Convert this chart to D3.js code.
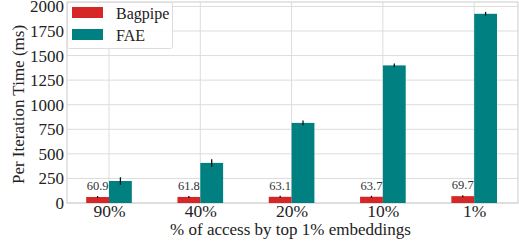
<!DOCTYPE html>
<html>
<head>
<meta charset="utf-8">
<script src="https://cdn.jsdelivr.net/npm/d3@7"></script>
<style>
  body { margin: 0; background: #fff; }
  svg text { font-family: 'Liberation Serif', 'Times New Roman', serif; }
</style>
</head>
<body>
<svg width="519" height="241"></svg>
<script>
const categories = ['90%', '40%', '20%', '10%', '1%'];
const bagpipe = [60.9, 61.8, 63.1, 63.7, 69.7];
const bagpipeErr = [10, 10, 10, 10, 10];
const fae = [224, 408, 815, 1400, 1925];
const faeErr = [38, 38, 25, 20, 20];
const yTicks = [0, 250, 500, 750, 1000, 1250, 1500, 1750, 2000];

const FONT = "'Liberation Serif', 'Times New Roman', serif";

const svg = d3.select('svg');
const margin = { left: 67, right: 1, top: 2, bottom: 38 };
const width = 519 - margin.left - margin.right;
const height = 241 - margin.top - margin.bottom;

const g = svg.append('g').attr('transform', `translate(${margin.left},${margin.top})`);

const x = d3.scaleLinear().domain([-0.46, 4.48]).range([0, width]);
const y = d3.scaleLinear().domain([0, 2045]).range([height, 0]);
const barW = x(0.25) - x(0);

// grid
g.selectAll('.hgrid').data(yTicks).enter().append('line')
  .attr('x1', 0).attr('x2', width)
  .attr('y1', d => y(d)).attr('y2', d => y(d))
  .attr('stroke', '#dcdcdc').attr('stroke-width', 1);
g.selectAll('.vgrid').data(categories).enter().append('line')
  .attr('x1', (d, i) => x(i)).attr('x2', (d, i) => x(i))
  .attr('y1', 0).attr('y2', height)
  .attr('stroke', '#dcdcdc').attr('stroke-width', 1);

// frame
g.append('rect').attr('width', width).attr('height', height)
  .attr('fill', 'none').attr('stroke', '#d4d4d4').attr('stroke-width', 1.2);

const series = [
  { name: 'Bagpipe', values: bagpipe, err: bagpipeErr, color: '#d62728', off: -0.125 },
  { name: 'FAE', values: fae, err: faeErr, color: '#008080', off: 0.125 }
];

series.forEach(s => {
  g.selectAll(null).data(s.values).enter().append('rect')
    .attr('x', (d, i) => x(i + s.off) - barW / 2)
    .attr('width', barW)
    .attr('y', d => y(d))
    .attr('height', d => height - y(d))
    .attr('fill', s.color);
  g.selectAll(null).data(s.values).enter().append('line')
    .attr('x1', (d, i) => x(i + s.off)).attr('x2', (d, i) => x(i + s.off))
    .attr('y1', (d, i) => y(d - s.err[i])).attr('y2', (d, i) => y(d + s.err[i]))
    .attr('stroke', '#111').attr('stroke-width', 1.3);
});

// value labels over Bagpipe
g.selectAll('.vlab').data(bagpipe).enter().append('text')
  .attr('x', (d, i) => x(i - 0.125))
  .attr('y', d => y(d) - 7)
  .attr('text-anchor', 'middle')
  .attr('font-size', 12.5).attr('fill', '#333')
  .text(d => d.toFixed(1));

// axes
const yAxis = d3.axisLeft(y).tickValues(yTicks).tickFormat(d3.format('d')).tickSize(0).tickPadding(3);
const yG = g.append('g').call(yAxis).attr('font-size', 17).attr('font-family', null);
yG.select('.domain').remove();
yG.selectAll('text').attr('fill', '#222');

const xAxis = d3.axisBottom(x).tickValues(d3.range(categories.length))
  .tickFormat(i => categories[i]).tickSize(0).tickPadding(2);
const xG = g.append('g').attr('transform', `translate(0,${height})`).call(xAxis)
  .attr('font-size', 17.5).attr('font-family', null);
xG.select('.domain').remove();
xG.selectAll('text').attr('fill', '#222');

svg.append('text')
  .attr('x', margin.left + width / 2 - 2).attr('y', 235)
  .attr('text-anchor', 'middle').attr('font-size', 17).attr('fill', '#222')
  .text('% of access by top 1% embeddings');

svg.append('text')
  .attr('transform', `translate(24,${margin.top + height / 2 + 2}) rotate(-90)`)
  .attr('text-anchor', 'middle').attr('font-size', 17).attr('fill', '#222')
  .text('Per Iteration Time (ms)');

// legend
const leg = g.append('g');
leg.append('rect').attr('x', 0.5).attr('y', 0.5).attr('width', 105).attr('height', 46).attr('rx', 2)
  .attr('fill', 'rgba(255,255,255,0.85)').attr('stroke', '#dcdcdc');
series.forEach((s, i) => {
  leg.append('rect').attr('x', 5).attr('y', 5 + i * 22).attr('width', 31).attr('height', 11)
    .attr('fill', s.color);
  leg.append('text').attr('x', 49).attr('y', 17 + i * 22)
    .attr('font-size', 16).attr('fill', '#222').text(s.name);
});

svg.selectAll('text').style('font-family', FONT);
</script>
</body>
</html>
